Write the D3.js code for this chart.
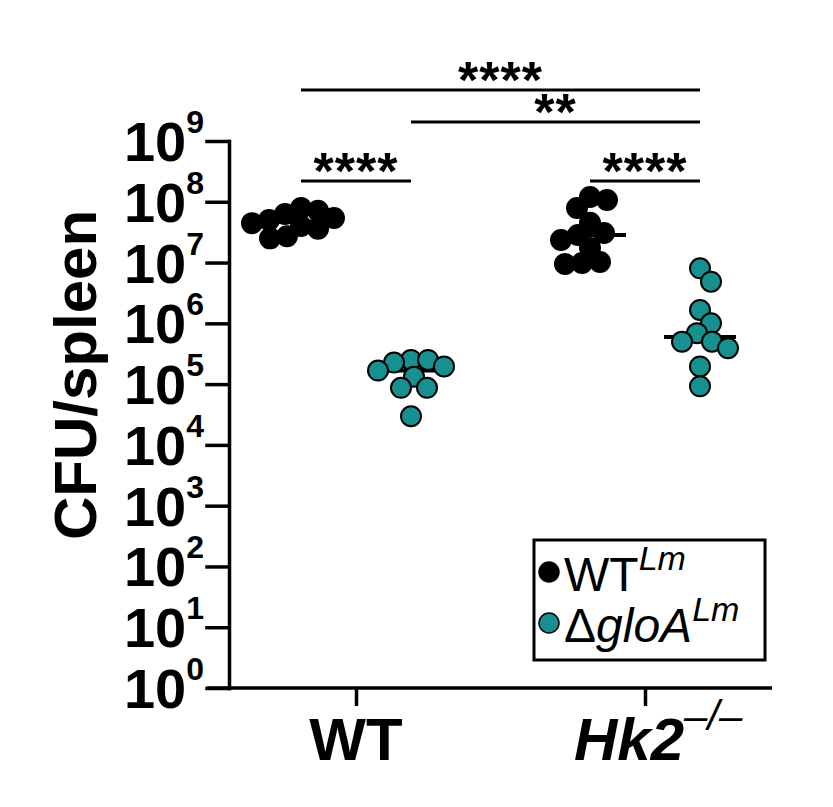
<!DOCTYPE html>
<html>
<head>
<meta charset="utf-8">
<script src="https://cdn.jsdelivr.net/npm/d3@7"></script>
<style>
  body { margin: 0; background: #fff; }
  text { font-family: "Liberation Sans", Arial, sans-serif; }
</style>
</head>
<body>
<svg id="chart" width="833" height="807"></svg>
<script>
"use strict";

// host genotypes on the x axis
let groups = ["WT", "Hk2"]
// infecting strains, in drawing order
let strains = ["WT", "gloA"]
let strainColors = {WT: "#000000", gloA: "#17918f"}

// CFU per spleen
let wtHostWtLm   = [7.9e7, 7.1e7, 6.3e7, 5.4e7, 5.0e7, 4.45e7, 4.0e7, 3.6e7, 2.7e7, 2.5e7]
let wtHostGloA   = [2.5e5, 2.5e5, 2.26e5, 1.95e5, 1.67e5, 1.32e5, 8.7e4, 8.7e4, 2.96e4]
let hk2HostWtLm  = [1.2e8, 1.07e8, 7.9e7, 4.5e7, 3.07e7, 2.85e7, 2.35e7, 1.74e7, 1.02e7, 9.8e6, 9.5e6]
let hk2HostGloA  = [8.05e6, 4.85e6, 1.66e6, 1.0e6, 6.9e5, 5.0e5, 5.0e5, 3.9e5, 1.95e5, 9.2e4]

let yTickExponents = [0, 1, 2, 3, 4, 5, 6, 7, 8, 9]

// significance brackets: which two columns, height (in CFU units, above the data) and stars
let comparisons = [
  {from: ["WT", "WT"],  to: ["Hk2", "gloA"], level: 6.9e9,  stars: "****"},
  {from: ["WT", "gloA"], to: ["Hk2", "gloA"], level: 2.05e9, stars: "**"},
  {from: ["WT", "WT"],  to: ["WT", "gloA"],  level: 2.2e8,  stars: "****"},
  {from: ["Hk2", "WT"], to: ["Hk2", "gloA"], level: 2.2e8,  stars: "****"}
]

let columns = [
  {group: "WT",  strain: "WT",   values: wtHostWtLm},
  {group: "WT",  strain: "gloA", values: wtHostGloA},
  {group: "Hk2", strain: "WT",   values: hk2HostWtLm},
  {group: "Hk2", strain: "gloA", values: hk2HostGloA}
]

let svg = d3.select("#chart")

let x = d3.scalePoint().domain(groups).range([356, 645])
let strainOffset = d3.scalePoint().domain(strains).range([-55, 55])
let y = d3.scaleLog().domain([1, 1e9]).range([688, 141])

let colX = (g, s) => x(g) + strainOffset(s)

let axisWidth = 3.5
let dotR = 10

// ---- y axis
let yAxis = svg.append("g")
    .attr("transform", "translate(229,0)")
    .call(d3.axisLeft(y)
      .tickValues(yTickExponents.map(e => Math.pow(10, e)))
      .tickSize(22).tickSizeOuter(0).tickFormat(""))
yAxis.selectAll("path, line")
    .attr("stroke", "#000").attr("stroke-width", axisWidth).attr("stroke-linecap", "square")

let yLabels = svg.append("g")
yTickExponents.forEach(e => {
  let t = yLabels.append("text")
      .attr("x", 204)
      .attr("y", y(Math.pow(10, e)) + 20)
      .attr("text-anchor", "end")
      .attr("font-weight", "bold")
      .attr("font-size", 56)
  t.append("tspan").text("10")
  t.append("tspan").attr("dy", -28).attr("font-size", 32).text(e)
})

svg.append("text")
    .attr("transform", "translate(96,375) rotate(-90)")
    .attr("text-anchor", "middle")
    .attr("font-weight", "bold")
    .attr("font-size", 60)
    .text("CFU/spleen")

// ---- x axis
svg.append("line")
    .attr("x1", 207).attr("x2", 772).attr("y1", 688).attr("y2", 688)
    .attr("stroke", "#000").attr("stroke-width", axisWidth)
let xAxis = svg.append("g")
    .attr("transform", "translate(0,688)")
    .call(d3.axisBottom(x).tickSize(18).tickSizeOuter(0).tickFormat(""))
xAxis.select(".domain").remove()
xAxis.selectAll("line").attr("stroke", "#000").attr("stroke-width", axisWidth)

svg.append("text")
    .attr("x", x("WT")).attr("y", 760)
    .attr("text-anchor", "middle")
    .attr("font-weight", "bold").attr("font-size", 60)
    .text("WT")
let hk2Label = svg.append("text")
    .attr("x", x("Hk2") - 71).attr("y", 760)
    .attr("font-weight", "bold").attr("font-style", "italic").attr("font-size", 60)
hk2Label.append("tspan").text("Hk2")
hk2Label.append("tspan").attr("dy", -30).attr("font-size", 42).attr("font-weight", "normal").text("\u2013/\u2013")

// ---- beeswarm layout: place each point as close to the column centre as it can go
function swarm(values, cx, minDist) {
  let placed = []
  let pts = values.map(v => ({v: v, y: y(v)})).sort((a, b) => a.y - b.y)
  pts.forEach(p => {
    for (let k = 0; k < 200; k++) {
      let off = (k % 2 ? 1 : -1) * Math.ceil(k / 2)
      let ok = placed.every(q => Math.hypot(q.x - (cx + off), q.y - p.y) >= minDist)
      if (ok) { p.x = cx + off; break }
    }
    placed.push(p)
  })
  return placed
}

columns.forEach(col => {
  let cx = colX(col.group, col.strain)
  let med = d3.median(col.values)
  svg.append("line")
      .attr("x1", cx - 36).attr("x2", cx + 36)
      .attr("y1", y(med)).attr("y2", y(med))
      .attr("stroke", "#000").attr("stroke-width", 4)

  let pts = swarm(col.values, cx, 17)
  svg.append("g").selectAll("circle")
    .data(pts)
    .join("circle")
      .attr("cx", d => d.x)
      .attr("cy", d => d.y)
      .attr("r", dotR)
      .attr("fill", strainColors[col.strain])
      .attr("stroke", "#000")
      .attr("stroke-width", 2)
})

// ---- significance brackets
comparisons.forEach(c => {
  let x1 = colX(c.from[0], c.from[1])
  let x2 = colX(c.to[0], c.to[1])
  let yy = y(c.level)
  svg.append("line")
      .attr("x1", x1).attr("x2", x2).attr("y1", yy).attr("y2", yy)
      .attr("stroke", "#000").attr("stroke-width", 3)
  svg.append("text")
      .attr("x", (x1 + x2) / 2).attr("y", yy + 8)
      .attr("text-anchor", "middle")
      .attr("font-weight", "bold").attr("font-size", 52)
      .attr("letter-spacing", 1)
      .text(c.stars)
})

// ---- legend
let legend = svg.append("g").attr("transform", "translate(534,540)")
legend.append("rect")
    .attr("width", 231).attr("height", 120)
    .attr("fill", "#fff").attr("stroke", "#000").attr("stroke-width", 3)

let legendRows = legend.selectAll("g.row")
  .data(strains)
  .join("g")
    .attr("class", "row")
    .attr("transform", (d, i) => "translate(0," + (32 + i * 51) + ")")
legendRows.append("circle")
    .attr("cx", 15).attr("r", dotR)
    .attr("fill", d => strainColors[d])
    .attr("stroke", "#000").attr("stroke-width", 1.5)
legendRows.each(function (d) {
  let t = d3.select(this).append("text")
      .attr("x", 30).attr("y", 19)
      .attr("font-size", 48)
  if (d === "WT") {
    t.append("tspan").text("WT")
  } else {
    t.append("tspan").text("\u0394")
    t.append("tspan").attr("font-style", "italic").text("gloA")
  }
  t.append("tspan").attr("dy", -21).attr("font-size", 34).attr("font-style", "italic").text("Lm")
})
</script>
</body>
</html>
